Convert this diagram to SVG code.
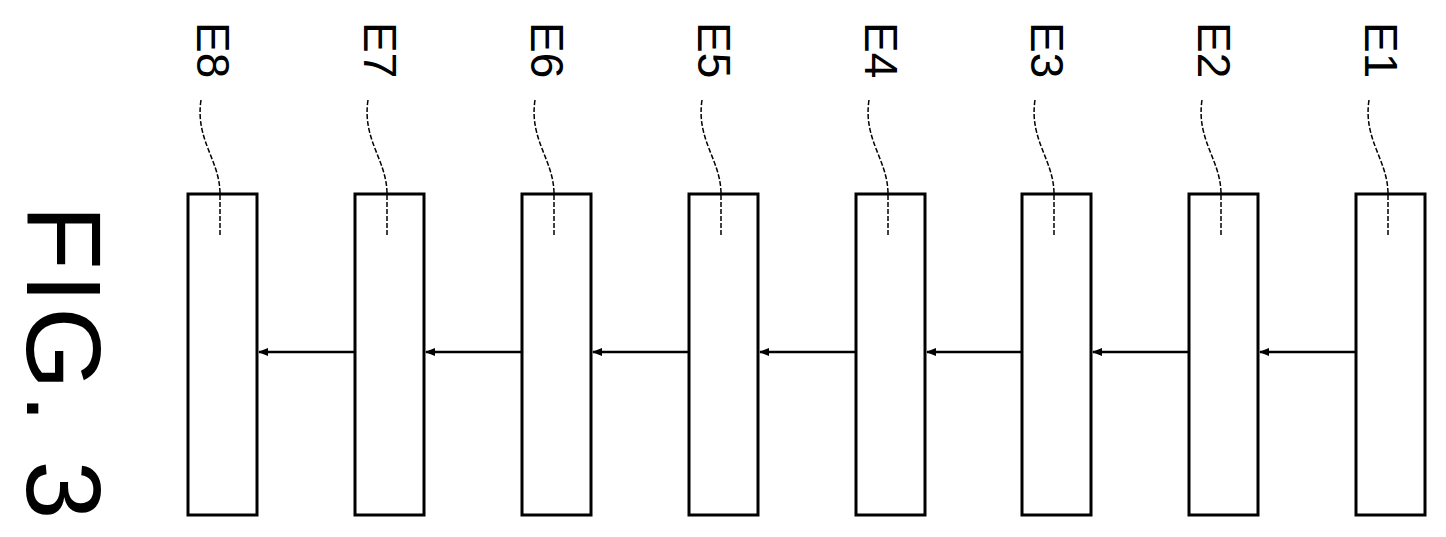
<svg xmlns="http://www.w3.org/2000/svg" width="1446" height="537" viewBox="0 0 1446 537">
<style>
.b{fill:#fff;stroke:#000;stroke-width:3}
.c{fill:none;stroke:#000;stroke-width:2.5}
.l{fill:none;stroke:#000;stroke-width:1.5;stroke-dasharray:5 2}
.t{font-family:"Liberation Sans",Arial,sans-serif;font-size:46px;fill:#000}
</style>
<defs><marker id="a" markerWidth="10" markerHeight="8" refX="9" refY="4" orient="auto" markerUnits="userSpaceOnUse"><path d="M0,0L10,4L0,8z" fill="#000"/></marker></defs>
<rect width="1446" height="537" fill="#fff"/>
<text transform="translate(27,205) rotate(90)" style="font-family:'Liberation Sans',Arial,sans-serif;font-size:106px;letter-spacing:4px">FIG. 3</text>
<g id="n8"><rect class="b" x="188" y="194" width="69" height="321"/><text class="t" transform="translate(197,22) rotate(90)">E8</text><path class="l" d="M201,100C195,140 220,160 220,194L220,235"/></g>
<g id="n7"><rect class="b" x="355" y="194" width="69" height="321"/><text class="t" transform="translate(364,22) rotate(90)">E7</text><path class="l" d="M368,100C362,140 387,160 387,194L387,235"/></g>
<g id="n6"><rect class="b" x="522" y="194" width="69" height="321"/><text class="t" transform="translate(531,22) rotate(90)">E6</text><path class="l" d="M535,100C529,140 554,160 554,194L554,235"/></g>
<g id="n5"><rect class="b" x="689" y="194" width="69" height="321"/><text class="t" transform="translate(698,22) rotate(90)">E5</text><path class="l" d="M702,100C696,140 721,160 721,194L721,235"/></g>
<g id="n4"><rect class="b" x="856" y="194" width="69" height="321"/><text class="t" transform="translate(865,22) rotate(90)">E4</text><path class="l" d="M869,100C863,140 888,160 888,194L888,235"/></g>
<g id="n3"><rect class="b" x="1022" y="194" width="69" height="321"/><text class="t" transform="translate(1031,22) rotate(90)">E3</text><path class="l" d="M1035,100C1029,140 1054,160 1054,194L1054,235"/></g>
<g id="n2"><rect class="b" x="1189" y="194" width="69" height="321"/><text class="t" transform="translate(1198,22) rotate(90)">E2</text><path class="l" d="M1202,100C1196,140 1221,160 1221,194L1221,235"/></g>
<g id="n1"><rect class="b" x="1356" y="194" width="69" height="321"/><text class="t" transform="translate(1365,22) rotate(90)">E1</text><path class="l" d="M1369,100C1363,140 1388,160 1388,194L1388,235"/></g>
<g id="connectors">
<path class="c" d="M1356,352H1260" marker-end="url(#a)"/>
<path class="c" d="M1189,352H1093" marker-end="url(#a)"/>
<path class="c" d="M1022,352H927" marker-end="url(#a)"/>
<path class="c" d="M856,352H760" marker-end="url(#a)"/>
<path class="c" d="M689,352H593" marker-end="url(#a)"/>
<path class="c" d="M522,352H426" marker-end="url(#a)"/>
<path class="c" d="M355,352H259" marker-end="url(#a)"/>
</g>
</svg>
